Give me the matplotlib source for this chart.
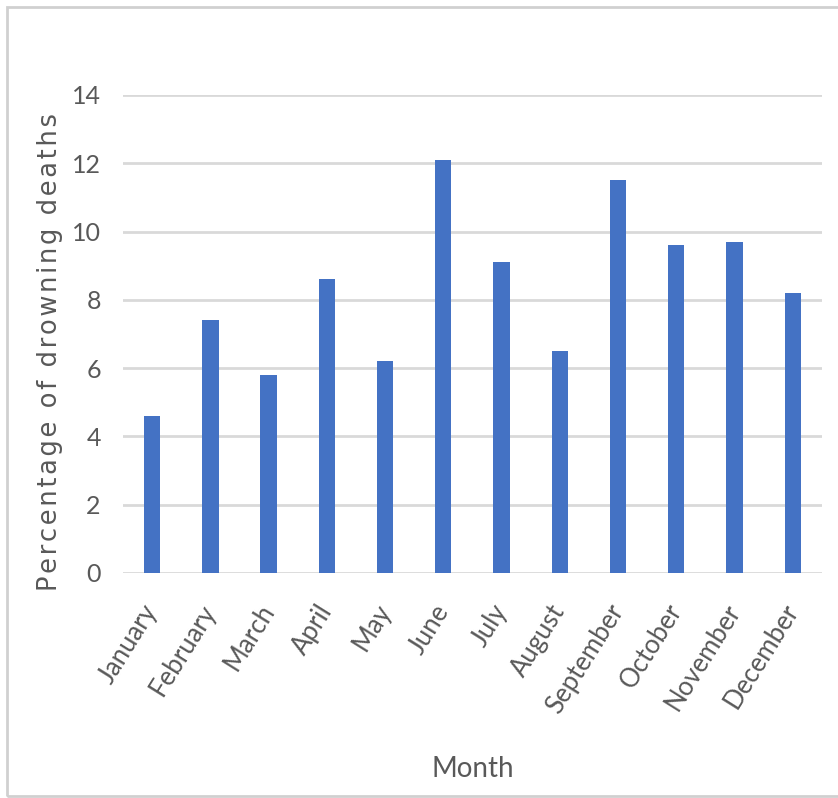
import matplotlib.pyplot as plt
from matplotlib.patches import Rectangle

months = ["January", "February", "March", "April", "May", "June",
          "July", "August", "September", "October", "November", "December"]
pct_deaths = [4.6, 7.4, 5.8, 8.6, 6.2, 12.1, 9.1, 6.5, 11.5, 9.6, 9.7, 8.2]
y_ticks = [0, 2, 4, 6, 8, 10, 12, 14]
y_title = "Percentage of drowning deaths"

txt_font = ["Lato", "DejaVu Sans"]
grey_txt = "#595959"

fig = plt.figure(figsize=(8.38, 7.98), dpi=100)
ax = fig.add_axes([0.1468, 0.282, 0.834, 0.599])

x = list(range(len(months)))
ax.bar(x, pct_deaths, width=0.28, color="#4472C4", zorder=3)

ax.set_xlim(-0.5, len(months) - 0.5)
ax.set_ylim(0, 14)
ax.set_yticks(y_ticks)
ax.set_yticklabels([str(t) for t in y_ticks], family=txt_font, fontsize=18, color=grey_txt)
ax.set_xticks(x)
ax.set_xticklabels(months, rotation=58, ha="right", va="center", rotation_mode="anchor",
                   family=txt_font, fontsize=18.5, color=grey_txt)
ax.tick_params(axis="both", length=0)
ax.tick_params(axis="y", pad=16)
ax.tick_params(axis="x", pad=24)

ax.grid(axis="y", color="#D9D9D9", linewidth=2, zorder=0)
for s in ax.spines.values():
    s.set_visible(False)

ax.set_xlabel("Month", family=txt_font, fontsize=20, color=grey_txt)
ax.xaxis.set_label_coords(0.5, -0.383)

# spaced-out axis title (hair space between letters)
spaced = "\u200a".join(y_title)
fig.text(0.06, 0.559, spaced, rotation=90, ha="center", va="center",
         family="DejaVu Sans", fontsize=18.5, color=grey_txt)

# thin frame around the chart area
fig.patches.append(Rectangle((7 / 838, 2 / 798), 1.0, 789 / 798, transform=fig.transFigure,
                             fill=False, edgecolor="#D0D0D0", linewidth=2))

fig.savefig("out.png", dpi=100)
